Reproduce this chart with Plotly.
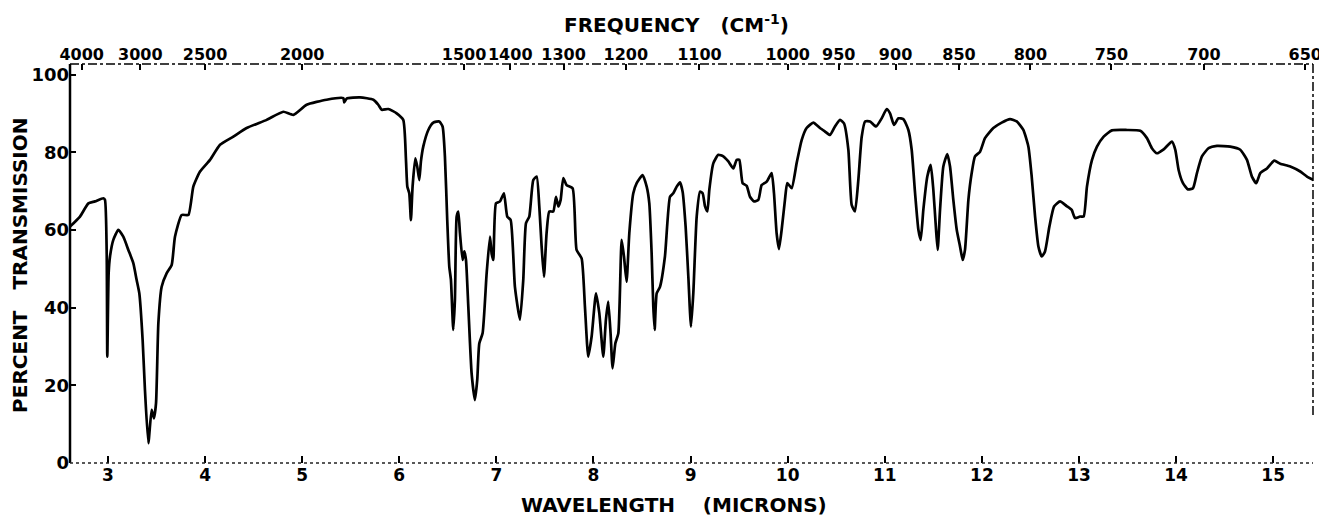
import plotly.graph_objects as go

# ---- data ----
wavelength_um = [
    2.609, 2.712, 2.798, 2.866, 2.952, 2.969, 2.987, 2.993, 3.007, 3.021,
    3.055, 3.107, 3.158, 3.210, 3.261, 3.295, 3.323, 3.357, 3.381, 3.416,
    3.450, 3.474, 3.495, 3.519, 3.553, 3.605, 3.656, 3.690, 3.759, 3.828,
    3.879, 3.948, 4.051, 4.154, 4.291, 4.428, 4.634, 4.806, 4.909, 5.046,
    5.252, 5.424, 5.434, 5.458, 5.596, 5.733, 5.784, 5.819, 5.887, 5.973,
    6.041, 6.069, 6.083, 6.103, 6.120, 6.137, 6.165, 6.185, 6.206, 6.223,
    6.247, 6.299, 6.350, 6.412, 6.446, 6.470, 6.494, 6.515, 6.532, 6.556,
    6.573, 6.591, 6.608, 6.625, 6.652, 6.670, 6.687, 6.711, 6.745, 6.779,
    6.803, 6.824, 6.858, 6.900, 6.934, 6.951, 6.968, 6.996, 7.037, 7.078,
    7.112, 7.147, 7.191, 7.243, 7.277, 7.305, 7.339, 7.380, 7.415, 7.442,
    7.466, 7.490, 7.517, 7.545, 7.586, 7.614, 7.638, 7.662, 7.689, 7.723,
    7.785, 7.826, 7.878, 7.912, 7.946, 7.981, 8.026, 8.060, 8.101, 8.128,
    8.152, 8.176, 8.197, 8.225, 8.256, 8.290, 8.314, 8.341, 8.369, 8.410,
    8.445, 8.506, 8.548, 8.575, 8.599, 8.616, 8.630, 8.651, 8.685, 8.736,
    8.788, 8.822, 8.857, 8.891, 8.918, 8.949, 8.977, 9.004, 9.028, 9.063,
    9.097, 9.124, 9.149, 9.173, 9.193, 9.234, 9.286, 9.337, 9.389, 9.440,
    9.475, 9.502, 9.536, 9.578, 9.612, 9.653, 9.698, 9.732, 9.784, 9.835,
    9.859, 9.886, 9.910, 9.938, 9.972, 9.996, 10.041, 10.092, 10.144, 10.195,
    10.264, 10.333, 10.384, 10.436, 10.487, 10.539, 10.580, 10.625, 10.659, 10.693,
    10.728, 10.762, 10.797, 10.848, 10.910, 10.968, 11.020, 11.054, 11.095, 11.140,
    11.191, 11.243, 11.277, 11.312, 11.346, 11.370, 11.397, 11.438, 11.473, 11.500,
    11.528, 11.545, 11.569, 11.603, 11.644, 11.672, 11.706, 11.741, 11.775, 11.802,
    11.826, 11.861, 11.895, 11.929, 11.981, 12.032, 12.118, 12.204, 12.290, 12.359,
    12.427, 12.479, 12.513, 12.548, 12.582, 12.616, 12.650, 12.695, 12.743, 12.805,
    12.873, 12.925, 12.959, 13.011, 13.048, 13.082, 13.134, 13.185, 13.254, 13.339,
    13.494, 13.631, 13.700, 13.751, 13.803, 13.872, 13.957, 13.992, 14.026, 14.071,
    14.122, 14.174, 14.215, 14.266, 14.335, 14.421, 14.558, 14.661, 14.730, 14.781,
    14.826, 14.867, 14.936, 15.011, 15.073, 15.176, 15.279, 15.348, 15.416,
]
transmission_pct = [
    60.9, 63.5, 66.9, 67.4, 68.2, 67.8, 54.0, 27.4, 48.9, 53.2,
    57.5, 60.1, 58.3, 54.9, 51.5, 47.2, 43.7, 31.7, 18.8, 5.1,
    13.7, 11.5, 15.4, 36.0, 45.4, 48.9, 51.0, 58.3, 63.9, 63.9,
    71.2, 75.1, 78.1, 82.0, 84.1, 86.3, 88.4, 90.5, 89.7, 92.3,
    93.6, 94.0, 92.9, 93.9, 94.2, 93.6, 92.3, 91.0, 91.2, 90.1,
    88.4, 78.1, 71.2, 69.5, 62.6, 71.2, 78.5, 76.4, 72.9, 77.7,
    81.5, 85.8, 87.7, 88.0, 86.7, 79.0, 62.6, 50.6, 47.2, 34.3,
    42.0, 63.5, 64.8, 59.2, 52.3, 54.5, 52.3, 40.3, 23.1, 16.2,
    21.4, 30.8, 33.4, 48.9, 58.3, 54.0, 52.3, 66.9, 67.4, 69.5,
    63.5, 62.6, 45.4, 36.9, 47.2, 61.8, 63.5, 72.9, 73.8, 66.1,
    55.8, 48.0, 59.2, 64.8, 64.8, 68.6, 66.1, 67.8, 73.4, 71.6,
    70.8, 54.9, 52.7, 40.3, 27.4, 32.6, 43.7, 38.6, 27.4, 36.9,
    41.6, 33.4, 24.4, 30.8, 33.4, 57.5, 53.2, 46.7, 59.2, 69.5,
    72.1, 74.2, 71.2, 66.9, 54.0, 40.3, 34.3, 43.7, 45.4, 53.2,
    68.6, 69.5, 71.2, 72.3, 69.9, 60.9, 48.0, 35.1, 43.7, 63.5,
    69.9, 69.5, 66.1, 64.8, 70.4, 77.2, 79.4, 79.0, 77.7, 75.9,
    78.1, 78.1, 72.1, 71.4, 68.6, 67.4, 67.8, 71.6, 72.5, 74.7,
    69.5, 59.2, 55.1, 60.1, 67.8, 72.1, 70.8, 77.2, 83.2, 86.3,
    87.7, 86.3, 85.4, 84.5, 86.7, 88.4, 87.5, 80.7, 66.5, 64.8,
    73.0, 84.0, 88.0, 88.0, 86.7, 88.8, 91.2, 90.1, 87.1, 88.8,
    88.6, 85.8, 80.7, 69.5, 60.1, 57.5, 65.2, 73.8, 76.8, 70.4,
    60.1, 54.9, 65.2, 76.4, 79.6, 76.4, 67.8, 60.1, 55.8, 52.3,
    54.9, 67.8, 74.7, 79.0, 80.2, 83.7, 86.3, 87.7, 88.6, 88.0,
    85.8, 81.5, 73.8, 63.5, 55.8, 53.2, 54.5, 60.9, 66.1, 67.4,
    66.2, 65.2, 63.1, 63.5, 63.5, 71.2, 78.1, 81.5, 84.1, 85.7,
    85.8, 85.6, 83.7, 81.1, 79.8, 80.8, 82.8, 80.7, 75.5, 72.1,
    70.5, 70.8, 74.7, 79.0, 81.1, 81.7, 81.5, 80.7, 78.1, 73.8,
    72.1, 74.7, 75.9, 77.9, 77.1, 76.4, 75.1, 73.8, 72.9,
]
wavelength_ticks = [3, 4, 5, 6, 7, 8, 9, 10, 11, 12, 13, 14, 15]
transmission_ticks = [0, 20, 40, 60, 80, 100]
frequency_labels = [4000, 3000, 2500, 2000, 1500, 1400, 1300, 1200, 1100,
                    1000, 950, 900, 850, 800, 750, 700, 650]

# ---- axes ----
X_MIN, X_MAX = 2.609, 15.41
Y_MIN, Y_MAX = 0.0, 102.8
FONT = "DejaVu Sans"

# frequency ticks placed at wavelength = 1e4 / cm^-1 (end labels kept just inside the frame)
freq_pos = [min(max(1e4 / f, X_MIN + 0.12), X_MAX - 0.08) for f in frequency_labels]

fig = go.Figure()
fig.add_trace(go.Scatter(
    x=wavelength_um, y=transmission_pct, mode="lines",
    line=dict(color="black", width=2.7, shape="spline", smoothing=0.5),
    hoverinfo="skip", showlegend=False,
))
fig.add_trace(go.Scatter(
    x=[X_MIN, X_MAX], y=[None, None], xaxis="x2", mode="lines",
    hoverinfo="skip", showlegend=False,
))

# the page body adds an 8 px margin, so the figure is 8 px smaller and margins compensate
fig.update_layout(
    width=1319, height=513,
    margin=dict(l=62, r=14, t=56, b=58),
    paper_bgcolor="white", plot_bgcolor="white",
    font=dict(family=FONT, color="black"),
    xaxis=dict(
        range=[X_MIN, X_MAX], tickvals=wavelength_ticks,
        ticktext=[str(v) for v in wavelength_ticks],
        ticks="inside", ticklen=7, tickwidth=1.5, tickcolor="black",
        showgrid=False, zeroline=False, showline=False, automargin=False,
        tickangle=0,
        tickfont=dict(family=FONT, size=17, color="black", weight="bold"),
    ),
    xaxis2=dict(
        range=[X_MIN, X_MAX], overlaying="x", side="top",
        tickvals=freq_pos, ticktext=[str(f) for f in frequency_labels],
        ticks="inside", ticklen=6, tickwidth=1.5, tickcolor="black",
        showgrid=False, zeroline=False, showline=False, automargin=False,
        tickangle=0, ticklabeloverflow="allow",
        tickfont=dict(family=FONT, size=16, color="black", weight="bold"),
    ),
    yaxis=dict(
        range=[Y_MIN, Y_MAX], tickvals=transmission_ticks,
        ticks="inside", ticklen=6, tickwidth=1.5, tickcolor="black",
        showgrid=False, zeroline=False, showline=False, automargin=False,
        tickfont=dict(family=FONT, size=18, color="black", weight="bold"),
    ),
    shapes=[
        dict(type="line", xref="paper", yref="paper", x0=0, x1=0, y0=0, y1=1,
             line=dict(color="black", width=2.5)),
        dict(type="line", xref="paper", yref="paper", x0=0, x1=1, y0=1, y1=1,
             line=dict(color="black", width=1.6, dash="dashdot")),
        dict(type="line", xref="paper", yref="paper", x0=0, x1=1, y0=0, y1=0,
             line=dict(color="#222", width=1.5, dash="dot")),
        dict(type="line", xref="paper", yref="paper", x0=1, x1=1, y0=0.12, y1=1,
             line=dict(color="black", width=1.5, dash="dashdot")),
    ],
    annotations=[
        dict(text="PERCENT   TRANSMISSION", xref="paper", yref="paper",
             x=-0.0402, y=0.494, textangle=-90, showarrow=False,
             xanchor="center", yanchor="middle",
             font=dict(family=FONT, size=20, color="black", weight="bold")),
        dict(text="WAVELENGTH    (MICRONS)", xref="paper", yref="paper",
             x=0.486, y=-0.105, showarrow=False,
             xanchor="center", yanchor="middle",
             font=dict(family=FONT, size=20, color="black", weight="bold")),
        dict(text="FREQUENCY   (CM<sup>-1</sup>)", xref="paper", yref="paper",
             x=0.488, y=1.100, showarrow=False,
             xanchor="center", yanchor="middle",
             font=dict(family=FONT, size=20, color="black", weight="bold")),
    ],
)

fig.write_html("out.html")
